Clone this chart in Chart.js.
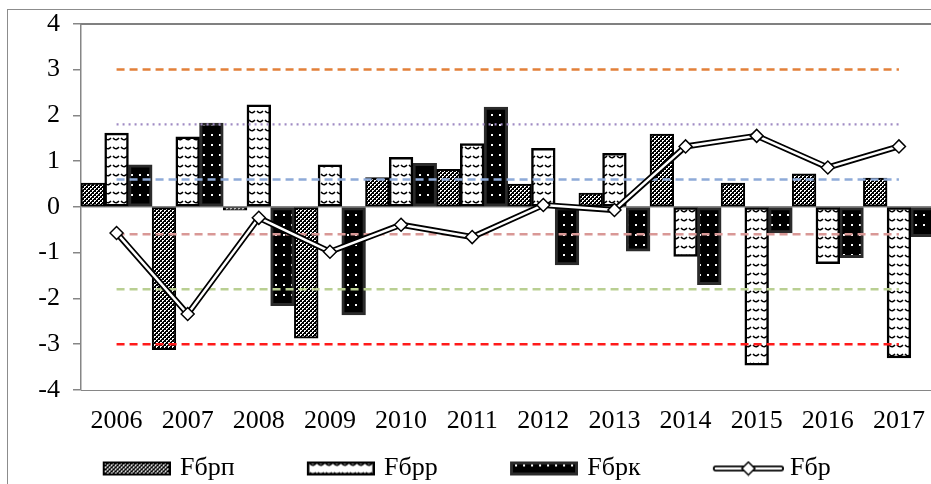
<!DOCTYPE html>
<html lang="ru">
<head>
<meta charset="UTF-8">
<title>Fбр 2006-2017</title>
<style>
  html, body { margin: 0; padding: 0; background: #fff; overflow: hidden; }
  #chart { display: block; }
</style>
</head>
<body>
<canvas id="chart" width="950" height="484"></canvas>
<script src="https://cdn.jsdelivr.net/npm/chart.js"></script>
<script>
  var years = ['2006', '2007', '2008', '2009', '2010', '2011', '2012', '2013', '2014', '2015', '2016', '2017'];
  var fbrp = [0.52, -3.12, -0.07, -2.87, 0.64, 0.82, 0.50, 0.30, 1.59, 0.52, 0.72, 0.63];
  var fbrr = [1.61, 1.53, 2.23, 0.92, 1.08, 1.38, 1.28, 1.17, -1.08, -3.46, -1.24, -3.30];
  var fbrk = [0.92, 1.83, -2.16, -2.36, 0.95, 2.18, -1.27, -0.97, -1.70, -0.57, -1.11, -0.65];
  var fbr = [-0.57, -2.34, -0.24, -0.98, -0.39, -0.66, 0.04, -0.07, 1.32, 1.55, 0.86, 1.32];
  var levels = [3, 1.8, 0.6, -0.6, -1.8, -3];
  var levelColors = ['#e2803a', '#a08cc4', '#8eaad8', '#d99896', '#b9cf92', '#ff1a1a'];
  var levelDash = [[8, 5], [2, 4], [8, 5], [8, 5], [8, 5], [8, 5]];
  var legendNames = ['Fбрп', 'Fбрр', 'Fбрк', 'Fбр'];
  var yMin = -4, yMax = 4;

  var serif = "'Times New Roman', 'Liberation Serif', serif";
  var axisGray = '#868686';

  // --- fill patterns for the bars ---
  function tile(w, h, draw) {
    var c = document.createElement('canvas');
    c.width = w; c.height = h;
    draw(c.getContext('2d'));
    return c;
  }
  var checkTile = tile(4, 4, function (g) {
    g.fillStyle = '#fff'; g.fillRect(0, 0, 4, 4);
    g.fillStyle = '#000'; g.fillRect(0, 0, 2, 2); g.fillRect(2, 2, 2, 2);
    g.fillRect(1, 3, 1, 1); g.fillRect(3, 1, 1, 1);
  });
  var waveTile = tile(8, 9, function (g) {
    g.fillStyle = '#fff'; g.fillRect(0, 0, 8, 9);
    g.strokeStyle = '#000'; g.lineWidth = 1.5;
    g.beginPath(); g.arc(4, 1.5, 3.2, 0.15 * Math.PI, 0.85 * Math.PI); g.stroke();
  });
  var dotTile = tile(8, 10, function (g) {
    g.fillStyle = '#000'; g.fillRect(0, 0, 8, 10);
    g.fillStyle = '#fff'; g.fillRect(3, 4, 2, 2);
  });
  var tmp = document.createElement('canvas').getContext('2d');
  var fillP = tmp.createPattern(checkTile, 'repeat');
  var fillR = tmp.createPattern(waveTile, 'repeat');
  var fillK = tmp.createPattern(dotTile, 'repeat');

  // --- legend icons (drawn centred on the box, patch on the right) ---
  function patchIcon(fill, border, bw) {
    return tile(138, 16, function (g) {
      g.fillStyle = g.createPattern(fill, 'repeat');
      g.fillRect(70, 1, 68, 14);
      g.strokeStyle = border; g.lineWidth = bw;
      g.strokeRect(70 + bw / 2, 1 + bw / 2, 68 - bw, 14 - bw);
    });
  }
  var lineIcon = tile(144, 16, function (g) {
    g.lineCap = 'round';
    g.strokeStyle = '#000'; g.lineWidth = 6;
    g.beginPath(); g.moveTo(76, 8); g.lineTo(141, 8); g.stroke();
    g.strokeStyle = '#fff'; g.lineWidth = 2.5;
    g.beginPath(); g.moveTo(76, 8); g.lineTo(141, 8); g.stroke();
    g.fillStyle = '#fff'; g.strokeStyle = '#000'; g.lineWidth = 1.5;
    g.beginPath(); g.moveTo(108.5, 1.5); g.lineTo(115, 8); g.lineTo(108.5, 14.5); g.lineTo(102, 8); g.closePath();
    g.fill(); g.stroke();
  });
  var legendIcons = [patchIcon(checkTile, '#000', 2), patchIcon(waveTile, '#000', 2.5), patchIcon(dotTile, '#2b2b2b', 3), lineIcon];

  var datasets = [
    { type: 'line', label: 'Fбр', data: fbr, order: 0, borderColor: '#fff', borderWidth: 2.5,
      pointStyle: 'rectRot', pointRadius: 6.5, pointBackgroundColor: '#fff', pointBorderColor: '#000', pointBorderWidth: 1.5,
      tension: 0, fill: false },
    { type: 'line', label: 'Fбр edge', data: fbr, order: 1, borderColor: '#000', borderWidth: 6,
      pointRadius: 0, tension: 0, fill: false }
  ];
  levels.forEach(function (v, i) {
    datasets.push({
      type: 'line', label: 'level ' + v, order: 2,
      data: [{ x: years[0], y: v }, { x: years[years.length - 1], y: v }],
      borderColor: levelColors[i], borderWidth: i === 1 ? 2.2 : 2.5, borderDash: levelDash[i],
      pointRadius: 0, fill: false
    });
  });
  datasets.push(
    { type: 'bar', label: 'Fбрп', data: fbrp, order: 3, backgroundColor: fillP, borderColor: '#000', borderWidth: 2, borderSkipped: false },
    { type: 'bar', label: 'Fбрр', data: fbrr, order: 3, backgroundColor: fillR, borderColor: '#000', borderWidth: 2.5, borderSkipped: false },
    { type: 'bar', label: 'Fбрк', data: fbrk, order: 3, backgroundColor: fillK, borderColor: '#2b2b2b', borderWidth: 3, borderSkipped: false }
  );

  // white page, outer chart frame, top edge of the plot area
  var framePlugin = {
    id: 'chartFrame',
    beforeDraw: function (chart) {
      var ctx = chart.ctx;
      ctx.save();
      ctx.fillStyle = '#fff';
      ctx.fillRect(0, 0, chart.width, chart.height);
      ctx.strokeStyle = '#8c8c8c';
      ctx.lineWidth = 1;
      ctx.strokeRect(7.5, 9.5, 1000, 1000);
      ctx.restore();
    },
    afterDraw: function (chart) {
      var ctx = chart.ctx, a = chart.chartArea;
      var y = Math.round(a.top);
      ctx.save();
      ctx.globalAlpha = 1;
      ctx.fillStyle = '#808080';
      ctx.fillRect(a.left, y - 1, chart.width - a.left, 2);
      ctx.restore();
    }
  };

  new Chart(document.getElementById('chart'), {
    type: 'bar',
    data: { labels: years, datasets: datasets },
    plugins: [framePlugin],
    options: {
      responsive: false,
      animation: false,
      layout: { padding: { left: 30.5, top: 23.7, right: 15.5, bottom: 0 } },
      datasets: { bar: { categoryPercentage: 1, barPercentage: 1 } },
      scales: {
        x: {
          grid: { display: true, drawOnChartArea: false, drawTicks: false },
          border: { color: axisGray, width: 1 },
          ticks: { color: '#000', padding: 16, font: { family: serif, size: 26 } },
          afterFit: function (s) { s.height = 59.5; }
        },
        y: {
          min: yMin, max: yMax,
          grid: {
            color: function (c) { return c.tick && c.tick.value === 0 ? axisGray : 'rgba(0,0,0,0)'; },
            lineWidth: 1.5,
            tickColor: axisGray, tickLength: 8, tickWidth: 1.5
          },
          border: { color: axisGray, width: 1.5 },
          ticks: { stepSize: 1, color: '#000', padding: 13, font: { family: serif, size: 26 },
            callback: function (v) { return String(v); } },
          afterFit: function (s) {
            s.width = 81 - 30.5;
            // label overflow is already covered by the layout padding
            s.paddingTop = 10;
            s.paddingBottom = 10;
          }
        }
      },
      plugins: {
        tooltip: { enabled: false },
        legend: {
          position: 'bottom',
          align: 'start',
          maxHeight: 34.5,
          labels: {
            usePointStyle: true,
            pointStyleWidth: 130.5,
            padding: 6,
            color: '#000',
            font: { family: serif, size: 26 },
            generateLabels: function () {
              return legendNames.map(function (t, i) {
                return { text: t, pointStyle: legendIcons[i], fillStyle: '#000', strokeStyle: '#000',
                  lineWidth: 0, hidden: false, datasetIndex: i, fontColor: '#000' };
              });
            }
          }
        }
      }
    }
  });
</script>
</body>
</html>
